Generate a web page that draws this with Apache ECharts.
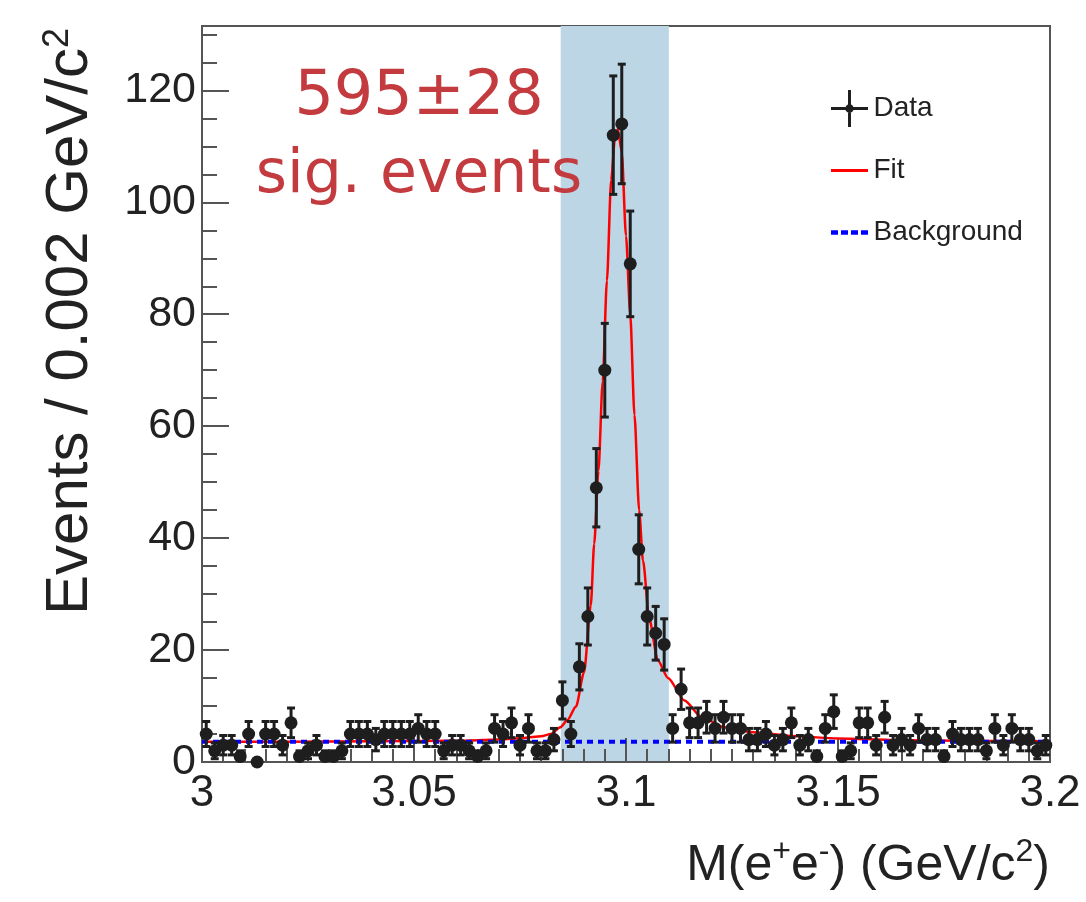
<!DOCTYPE html>
<html>
<head>
<meta charset="utf-8">
<script src="https://cdn.jsdelivr.net/npm/echarts@6/dist/echarts.min.js"></script>
<style>
    html, body { margin: 0; padding: 0; background: #fff; }
    #chart { width: 1086px; height: 902px; }
</style>
</head>
<body>
<div id="chart"></div>
<script>
    // binning of the histogram
    const massLo = 3.0;
    const binWidth = 0.002;

    // events per bin (100 bins, 3.0 - 3.2)
    const counts = [
        5, 2, 3, 3, 1, 5, 0, 5, 5, 3,
        7, 1, 2, 3, 1, 1, 2, 5, 5, 5,
        4, 5, 5, 5, 5, 6, 5, 5, 2, 3,
        3, 2, 1, 2, 6, 5, 7, 3, 6, 2,
        2, 4, 11, 5, 17, 26, 49, 70, 112, 114,
        89, 38, 26, 23, 21, 6, 13, 7, 7, 8,
        6, 8, 6, 6, 4, 4, 5, 3, 4, 7,
        3, 4, 1, 6, 9, 1, 2, 7, 7, 3,
        8, 3, 4, 3, 6, 4, 4, 1, 5, 4,
        4, 4, 2, 6, 3, 6, 4, 4, 2, 3
    ];

    // fit curve (red), sampled off the plot
    const fitMass = [3.000, 3.020, 3.040, 3.060, 3.070, 3.076, 3.080, 3.0823, 3.0845, 3.0862,
        3.0882, 3.0901, 3.0917, 3.0925, 3.0935, 3.0945, 3.0955, 3.0965, 3.0975, 3.0981,
        3.0990, 3.1000, 3.1010, 3.1020, 3.1031, 3.1040, 3.1055, 3.1075, 3.1099, 3.1138,
        3.1177, 3.1232, 3.130, 3.140, 3.150, 3.165, 3.180, 3.200];
    const fitEvents = [3.6, 3.6, 3.7, 3.8, 4.0, 4.3, 4.6, 5.0, 6.2, 7.5,
        9.9, 16, 28, 39, 52, 68, 86, 104, 112.5, 113,
        109, 94, 80, 62, 45, 36, 25.5, 18.2, 15, 11,
        8.1, 6.2, 5.3, 4.6, 4.2, 3.9, 3.8, 3.7];

    // background (blue dashed)
    const bkgMass = [3.0, 3.2];
    const bkgEvents = [3.6, 3.6];

    // shaded signal window
    const signalWindow = [3.0846, 3.1101];

    const fontAxis = 'Liberation Sans';
    const axisColor = '#555';
    const markColor = '#1e1e1e';

    const points = counts.map((v, i) => [massLo + (i + 0.5) * binWidth, v]);
    const errPoints = counts.map((v, i) => [massLo + (i + 0.5) * binWidth, v, Math.sqrt(v)]);

    // legend icons (tiny corner squares keep the 0..10 box so nothing gets stretched)
    const corners = 'M0,0H0.01V0.01H0Z M9.99,9.99H10V10H9.99Z ';
    const dataIcon = 'path://' + corners + 'M0,4.6H10V5.4H0Z M4.6,0H5.4V10H4.6Z M3.85,5A1.15,1.15 0 1,1 6.15,5A1.15,1.15 0 1,1 3.85,5Z';
    const fitIcon = 'path://' + corners + 'M0,4.6H10V5.4H0Z';
    const bkgIcon = 'path://' + corners + 'M0,4.4H1.9V5.6H0Z M2.7,4.4H4.6V5.6H2.7Z M5.4,4.4H7.3V5.6H5.4Z M8.1,4.4H10V5.6H8.1Z';

    const myChart = echarts.init(document.getElementById('chart'));

    myChart.setOption({
        animation: false,
        backgroundColor: '#fff',
        grid: {
            left: 202, right: 36, top: 26, bottom: 140,
            show: true, borderColor: axisColor, borderWidth: 2,
            outerBoundsMode: 'none'
        },
        legend: {
            orient: 'vertical',
            left: 826, top: 85,
            itemWidth: 44, itemHeight: 37, itemGap: 25,
            textStyle: { fontFamily: fontAxis, fontSize: 28, color: '#222', padding: [0, 0, 0, -3] },
            data: [
                { name: 'Data', icon: dataIcon },
                { name: 'Fit', icon: fitIcon },
                { name: 'Background', icon: bkgIcon }
            ]
        },
        xAxis: {
            type: 'value', min: 3, max: 3.2, interval: 0.05, z: 1.5,
            axisLine: { lineStyle: { color: axisColor, width: 2 } },
            axisTick: { inside: true, length: 24, lineStyle: { color: axisColor, width: 2 } },
            minorTick: { show: true, splitNumber: 10, length: 13, lineStyle: { color: axisColor, width: 2 } },
            splitLine: { show: false },
            axisLabel: {
                fontFamily: fontAxis, fontSize: 44, color: '#222', margin: 10,
                showMinLabel: true, showMaxLabel: true,
                formatter: v => String(+v.toFixed(3))
            }
        },
        yAxis: [
            {   // minor ticks every 5
                type: 'value', min: 0, max: 131.5, interval: 5, position: 'left', z: 1.5,
                axisLine: { show: true, lineStyle: { color: axisColor, width: 2 } },
                axisTick: { inside: true, length: 15, lineStyle: { color: axisColor, width: 2 } },
                axisLabel: { show: false },
                splitLine: { show: false }
            },
            {   // major ticks + labels every 20
                type: 'value', min: 0, max: 131.5, interval: 20, position: 'left', offset: 0, z: 1.5,
                axisLine: { show: false },
                axisTick: { inside: true, length: 27, lineStyle: { color: axisColor, width: 2 } },
                axisLabel: {
                    fontFamily: fontAxis, fontSize: 43, color: '#222', margin: 6,
                    showMaxLabel: false,
                    formatter: v => (v % 20 === 0 ? String(v) : '')
                },
                splitLine: { show: false }
            }
        ],
        graphic: [
            {
                type: 'text', x: 70, y: 28, rotation: Math.PI / 2,
                style: {
                    text: 'Events / 0.002 GeV/c{sup|2}',
                    fontFamily: fontAxis, fontSize: 60, fill: '#222',
                    align: 'right', verticalAlign: 'middle',
                    rich: { sup: { fontFamily: fontAxis, fontSize: 36, fill: '#222', verticalAlign: 'top', padding: [0, 0, 18, 0] } }
                }
            },
            {
                type: 'text', x: 1050, y: 866,
                style: {
                    text: 'M(e{sup|+}e{sup|-}) (GeV/c{sup|2})',
                    fontFamily: fontAxis, fontSize: 50, fill: '#222',
                    align: 'right', verticalAlign: 'middle',
                    rich: { sup: { fontFamily: fontAxis, fontSize: 32, fill: '#222', verticalAlign: 'top', padding: [0, 0, 28, 0] } }
                }
            },
            {
                type: 'text', x: 419, y: 98, z: 10,
                style: { text: '595±28', fontFamily: 'DejaVu Sans', fontSize: 62, fill: '#c33b3e', align: 'center', verticalAlign: 'middle' }
            },
            {
                type: 'text', x: 419, y: 176, z: 10,
                style: { text: 'sig. events', fontFamily: 'DejaVu Sans', fontSize: 60, fill: '#c33b3e', align: 'center', verticalAlign: 'middle' }
            }
        ],
        series: [
            {
                name: 'Fit', type: 'line', z: 2,
                data: fitMass.map((m, i) => [m, fitEvents[i]]),
                symbol: 'none', smooth: 0.25, smoothMonotone: 'x',
                lineStyle: { color: '#ff0000', width: 2.5 },
                itemStyle: { color: '#ff0000' },
                markArea: {
                    silent: true, z: 1,
                    itemStyle: { color: '#bcd6e5', opacity: 1 },
                    data: [[{ xAxis: signalWindow[0] }, { xAxis: signalWindow[1] }]]
                }
            },
            {
                name: 'Background', type: 'line', z: 3,
                data: bkgMass.map((m, i) => [m, bkgEvents[i]]),
                symbol: 'none',
                lineStyle: { color: '#0000ff', width: 4, type: [6, 5] },
                itemStyle: { color: '#0000ff' }
            },
            {
                name: 'errors', type: 'custom', z: 4, silent: true, clip: true,
                data: errPoints,
                encode: { x: 0, y: 1 },
                renderItem: function (params, api) {
                    const x = api.value(0), y = api.value(1), e = api.value(2);
                    if (!e) return null;
                    const hi = api.coord([x, y + e]);
                    const lo = api.coord([x, y - e]);
                    const cap = 4;
                    const style = { stroke: markColor, lineWidth: 3 };
                    return {
                        type: 'group',
                        children: [
                            { type: 'line', shape: { x1: hi[0], y1: hi[1], x2: lo[0], y2: lo[1] }, style: style },
                            { type: 'line', shape: { x1: hi[0] - cap, y1: hi[1], x2: hi[0] + cap, y2: hi[1] }, style: style },
                            { type: 'line', shape: { x1: lo[0] - cap, y1: lo[1], x2: lo[0] + cap, y2: lo[1] }, style: style }
                        ]
                    };
                }
            },
            {
                name: 'Data', type: 'scatter', z: 5,
                data: points,
                symbol: 'circle', symbolSize: 13,
                itemStyle: { color: markColor, opacity: 1 }
            }
        ]
    });
</script>
</body>
</html>
